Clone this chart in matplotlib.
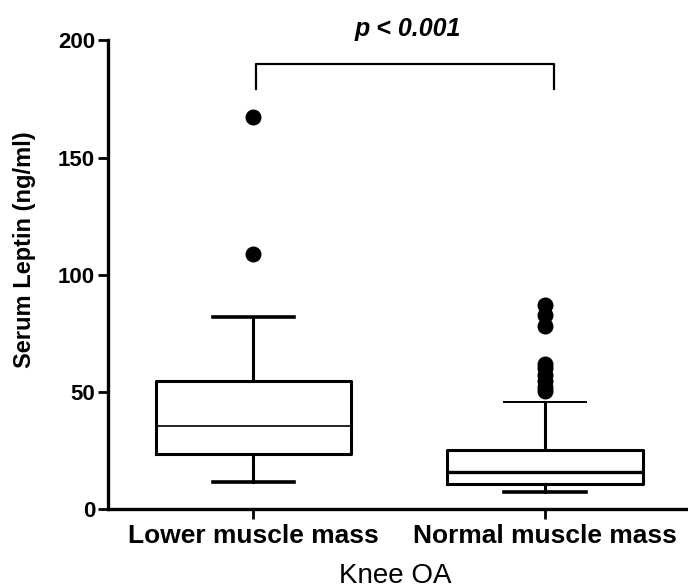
import matplotlib.pyplot as plt

plt.rcParams['font.family'] = ['Liberation Sans', 'DejaVu Sans']

groups = ["Lower muscle mass", "Normal muscle mass"]
whisk_lo = [11.7, 7.4]
q1 = [23.4, 10.6]
median = [35.4, 16.0]
q3 = [54.5, 25.0]
whisk_hi = [81.8, 45.7]
outliers = [
    [108.8, 167.5],
    [50.3, 52.0, 54.5, 57.0, 60.0, 62.0, 78.2, 83.0, 87.2],
]
p_text = "p < 0.001"
bracket_x = [1.01, 2.03]
bracket_y = 189.8
bracket_drop = 179.2

stats = []
for i in range(len(groups)):
    stats.append({
        "whislo": whisk_lo[i], "q1": q1[i], "med": median[i],
        "q3": q3[i], "whishi": whisk_hi[i], "fliers": outliers[i],
    })

fig = plt.figure(figsize=(6.88, 5.88), dpi=100)
ax = fig.add_axes([107.5 / 688, 1 - 509 / 588, 1 - 107.5 / 688, (509 - 40.5) / 588])

pos = [1, 2]
bp = ax.bxp(stats, positions=pos, widths=0.67, showfliers=True,
            boxprops=dict(color='k', linewidth=2.2),
            whiskerprops=dict(color='k', linewidth=2.2),
            capprops=dict(color='k', linewidth=2.6),
            medianprops=dict(color='k', linewidth=1.2),
            flierprops=dict(marker='o', markerfacecolor='k', markeredgecolor='k',
                            markersize=10.5, linestyle='none'))
# whisker caps narrower than boxes
for i, c in enumerate(bp['caps']):
    p = pos[i // 2]
    c.set_xdata([p - 0.14, p + 0.14])
bp['caps'][3].set_linewidth(1.4)
bp['medians'][1].set_linewidth(2.4)

ax.set_xlim(0.5, 2.49)
ax.set_ylim(0, 200)
ax.set_yticks([0, 50, 100, 150, 200])
ax.set_xticks(pos)
ax.set_xticklabels(groups, fontsize=19, fontweight='bold')
for lab in ax.get_yticklabels():
    lab.set_fontsize(16)
    lab.set_fontweight('bold')
ax.tick_params(axis='both', width=2, length=7, color='k')
ax.tick_params(axis='x', pad=4)
ax.tick_params(axis='y', pad=2)
ax.spines['top'].set_visible(False)
ax.spines['right'].set_visible(False)
for s in ['left', 'bottom']:
    ax.spines[s].set_linewidth(2.4)

ax.set_ylabel("Serum Leptin (ng/ml)", fontsize=17, fontweight='bold')
ax.yaxis.set_label_coords(-0.124, 0.553)
ax.set_xlabel("Knee OA", fontsize=20)
ax.xaxis.set_label_coords(0.495, -0.115)

ax.plot([bracket_x[0], bracket_x[0], bracket_x[1], bracket_x[1]],
        [bracket_drop, bracket_y, bracket_y, bracket_drop],
        color='k', linewidth=1.6, clip_on=False)
ax.text(1.53, 205, p_text, ha='center', va='center', fontsize=18,
        fontweight='bold', style='italic', clip_on=False)

fig.savefig("out.png", dpi=100)
